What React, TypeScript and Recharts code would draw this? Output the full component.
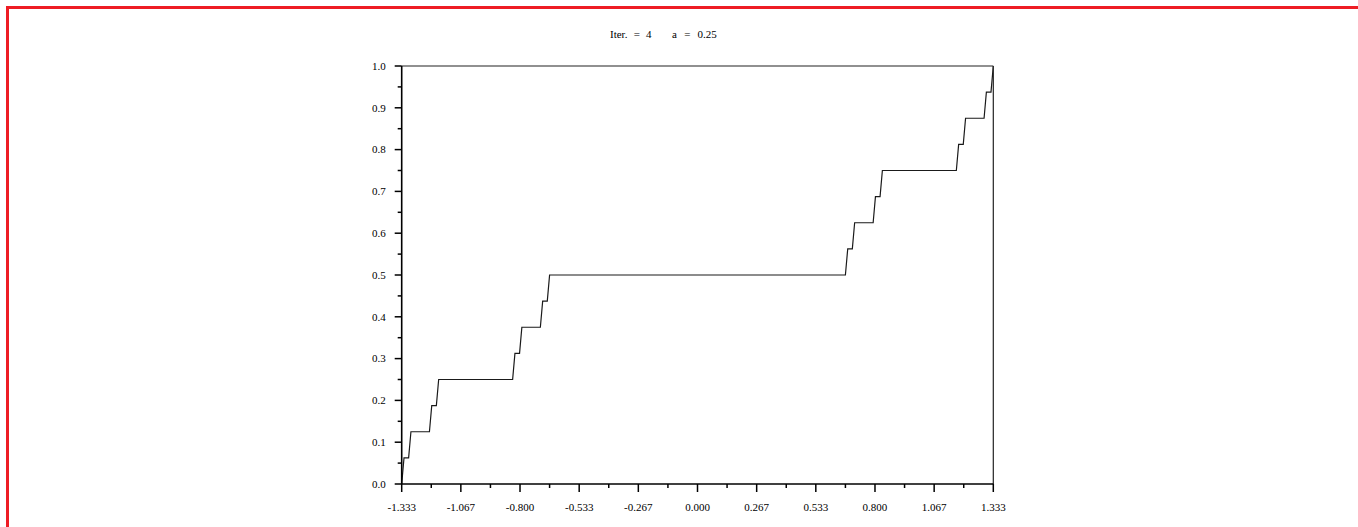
import { LineChart, Line, XAxis, YAxis, ReferenceLine } from "recharts";

// staircase breakpoints (x, y)
const stepX = [
  -1.3333,
  -1.3229, -1.3021,
  -1.2917, -1.2083,
  -1.1979, -1.1771,
  -1.1667, -0.8333,
  -0.8229, -0.8021,
  -0.7917, -0.7083,
  -0.6979, -0.6771,
  -0.6667, 0.6667,
  0.6771, 0.6979,
  0.7083, 0.7917,
  0.8021, 0.8229,
  0.8333, 1.1667,
  1.1771, 1.1979,
  1.2083, 1.2917,
  1.3021, 1.3229,
  1.3333,
];
const stepY = [
  0,
  0.0625, 0.0625,
  0.125, 0.125,
  0.1875, 0.1875,
  0.25, 0.25,
  0.3125, 0.3125,
  0.375, 0.375,
  0.4375, 0.4375,
  0.5, 0.5,
  0.5625, 0.5625,
  0.625, 0.625,
  0.6875, 0.6875,
  0.75, 0.75,
  0.8125, 0.8125,
  0.875, 0.875,
  0.9375, 0.9375,
  1,
];

const xMajor = [-1.3333, -1.0667, -0.8, -0.5333, -0.2667, 0, 0.2667, 0.5333, 0.8, 1.0667, 1.3333];
const xLabels = ["-1.333", "-1.067", "-0.800", "-0.533", "-0.267", "0.000", "0.267", "0.533", "0.800", "1.067", "1.333"];
const xMinor = [-1.2, -0.9333, -0.6667, -0.4, -0.1333, 0.1333, 0.4, 0.6667, 0.9333, 1.2];

const yMajor = [0, 0.1, 0.2, 0.3, 0.4, 0.5, 0.6, 0.7, 0.8, 0.9, 1];
const yLabels = ["0.0", "0.1", "0.2", "0.3", "0.4", "0.5", "0.6", "0.7", "0.8", "0.9", "1.0"];
const yMinor = [0.05, 0.15, 0.25, 0.35, 0.45, 0.55, 0.65, 0.75, 0.85, 0.95];

const data = stepX.map((x, i) => ({ x, y: stepY[i] }));
const xTicks = [...xMajor, ...xMinor].sort((a, b) => a - b);
const yTicks = [...yMajor, ...yMinor].sort((a, b) => a - b);

const FONT = "'Liberation Serif', 'Times New Roman', serif";

function XTick(props: any) {
  const { x, y, payload } = props;
  const idx = xMajor.indexOf(payload.value);
  const major = idx >= 0;
  return (
    <g>
      <line x1={x} x2={x} y1={y} y2={y + (major ? 8 : 4)} stroke="#000" strokeWidth={1.5} />
      {major && (
        <text x={x} y={y + 27} textAnchor="middle" fontSize={11} fontFamily={FONT} fill="#000">
          {xLabels[idx]}
        </text>
      )}
    </g>
  );
}

function YTick(props: any) {
  const { x, y, payload } = props;
  const idx = yMajor.indexOf(payload.value);
  const major = idx >= 0;
  return (
    <g>
      <line x1={x - (major ? 7 : 4)} x2={x} y1={y} y2={y} stroke="#000" strokeWidth={1.5} />
      {major && (
        <text x={x - 16} y={y} dy="0.35em" textAnchor="end" fontSize={11} fontFamily={FONT} fill="#000">
          {yLabels[idx]}
        </text>
      )}
    </g>
  );
}

export default function App() {
  return (
    <div style={{ position: "absolute", left: 0, top: 0, width: 1358, height: 527, background: "#fff", overflow: "hidden" }}>
      <div
        style={{
          position: "absolute", left: 6, top: 6, width: 1400, height: 600,
          borderTop: "3px solid #ee1c24", borderLeft: "3px solid #ee1c24",
        }}
      />
      <svg style={{ position: "absolute", left: 0, top: 0 }} width={1358} height={60}>
        <text x={610} y={38} fontSize={11} fontFamily={FONT} fill="#000" style={{ wordSpacing: 3.5 }}>
          Iter. = 4
        </text>
        <text x={672} y={38} fontSize={11} fontFamily={FONT} fill="#000" style={{ wordSpacing: 4.5 }}>
          a = 0.25
        </text>
      </svg>
      <div style={{ position: "absolute", left: 0, top: 0 }}>
        <LineChart width={1358} height={527} data={data} margin={{ top: 66, right: 364.7, bottom: 13, left: 341.7 }}>
          <XAxis
            dataKey="x" type="number" domain={[-1.3333, 1.3333]} allowDataOverflow
            ticks={xTicks} interval={0} tick={(p: any) => <XTick {...p} />}
            tickLine={false} tickSize={0} tickMargin={0} height={30}
            axisLine={{ stroke: "#000", strokeWidth: 1.6 }}
          />
          <YAxis
            type="number" domain={[0, 1]} allowDataOverflow
            ticks={yTicks} interval={0} tick={(p: any) => <YTick {...p} />}
            tickLine={false} tickSize={0} tickMargin={0} width={60}
            axisLine={{ stroke: "#000", strokeWidth: 1.6 }}
          />
          <ReferenceLine y={1} stroke="#222" strokeWidth={1.2} />
          <ReferenceLine x={1.3333} stroke="#222" strokeWidth={1.2} />
          <Line
            type="linear" dataKey="y" stroke="#1a1a1a" strokeWidth={1.2}
            dot={false} activeDot={false} isAnimationActive={false}
          />
        </LineChart>
      </div>
    </div>
  );
}
